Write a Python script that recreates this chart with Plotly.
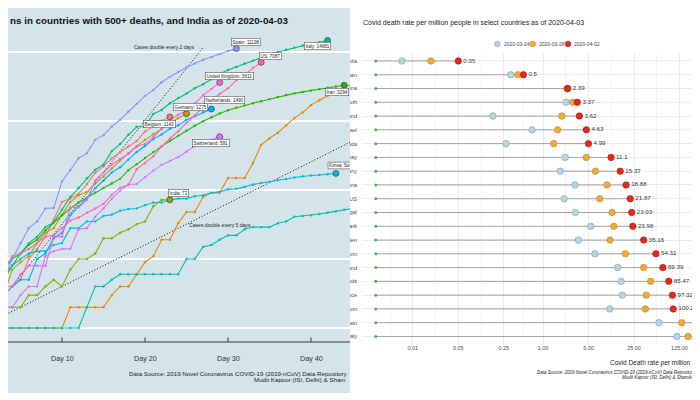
import math
import plotly.graph_objects as go

W, H = 700, 400
OFF = 8  # the page body offsets the figure by 8px; layout below is written in screen pixels
FONT = "Liberation Sans, Arial, Helvetica, sans-serif"

# ---------------- LEFT PANEL DATA: cumulative deaths, by day since first death ----------------
left_countries = ["Belgium", "France", "Germany", "India", "Iran", "Italy", "Japan",
                  "Korea, South", "Netherlands", "Spain", "Switzerland", "United Kingdom", "US"]
deaths_belgium = [3, 3, 3, 4, 4, 5, 10, 14, 21, 37, 67, 75, 88, 122, 178, 220, 289, 353, 431, 513,
                  705, 828, 1011, 1143]
deaths_france = [1, 1, 1, 1, 1, 1, 1, 1, 1, 1, 1, 2, 2, 2, 2, 2, 3, 4, 4, 6, 9, 11, 19, 19, 33, 48,
                 48, 79, 91, 91, 149, 149, 149, 244, 451, 563, 676, 862, 1102, 1333, 1698, 1997,
                 2317, 2611, 3030, 3532, 4043, 5398, 6520]
deaths_germany = [2, 2, 3, 3, 7, 9, 11, 17, 24, 28, 44, 67, 84, 94, 123, 157, 206, 267, 342, 433,
                  533, 645, 775, 920, 1107, 1275]
deaths_india = [1, 1, 2, 2, 2, 2, 3, 3, 4, 5, 4, 7, 10, 10, 12, 20, 20, 24, 27, 32, 35, 58, 72, 72]
deaths_iran = [2, 2, 4, 5, 8, 12, 16, 19, 26, 34, 43, 54, 66, 77, 92, 107, 124, 145, 194, 237, 291,
               354, 429, 514, 611, 724, 853, 988, 1135, 1284, 1433, 1556, 1685, 1812, 1934, 2077,
               2234, 2378, 2517, 2640, 2757, 2898, 3036, 3160, 3294]
deaths_italy = [1, 2, 3, 7, 10, 12, 17, 21, 29, 34, 52, 79, 107, 148, 197, 233, 366, 463, 631, 827,
                827, 1266, 1441, 1809, 2158, 2503, 2978, 3405, 4032, 4825, 5476, 6077, 6820, 7503,
                8215, 9134, 10023, 10779, 11591, 12428, 13155, 13915, 14681]
deaths_japan = [1, 1, 1, 1, 1, 1, 1, 1, 1, 1, 1, 1, 1, 2, 4, 4, 5, 6, 6, 6, 6, 6, 6, 6, 6, 10, 10,
                15, 16, 19, 22, 22, 27, 29, 29, 29, 33, 35, 41, 42, 43, 45, 47, 49, 52, 54, 54, 56,
                57, 62, 63]
deaths_korea = [1, 2, 2, 6, 8, 10, 12, 13, 13, 16, 17, 28, 28, 35, 35, 42, 44, 50, 53, 54, 60, 66,
                66, 72, 75, 75, 81, 84, 91, 94, 102, 104, 111, 120, 126, 131, 139, 144, 152, 158,
                162, 165, 169, 174]
deaths_netherlands = [1, 1, 3, 3, 4, 5, 5, 10, 12, 20, 24, 43, 58, 76, 106, 136, 179, 213, 276, 356,
                      434, 546, 639, 771, 864, 1039, 1173, 1339, 1490]
deaths_spain = [1, 2, 3, 5, 10, 17, 28, 35, 54, 55, 133, 195, 289, 342, 533, 623, 830, 1043, 1375,
                1772, 2311, 2808, 3647, 4365, 5138, 5982, 6803, 7716, 8464, 9387, 10348, 11198]
deaths_switzerland = [1, 1, 1, 2, 2, 3, 4, 4, 11, 13, 14, 14, 27, 28, 41, 54, 75, 98, 120, 122,
                      153, 191, 231, 264, 300, 359, 433, 488, 536, 591]
deaths_uk = [1, 2, 2, 3, 4, 6, 8, 8, 8, 21, 21, 56, 56, 72, 138, 178, 234, 282, 336, 423, 466, 580,
             761, 1021, 1231, 1411, 1793, 2357, 2926, 3611]
deaths_us = [1, 1, 6, 7, 11, 12, 14, 17, 21, 22, 28, 36, 40, 47, 54, 63, 85, 108, 118, 200, 244,
             307, 427, 552, 706, 942, 1209, 1581, 2026, 2467, 2978, 3873, 4757, 5926, 7087]
left_series = [deaths_belgium, deaths_france, deaths_germany, deaths_india, deaths_iran,
               deaths_italy, deaths_japan, deaths_korea, deaths_netherlands, deaths_spain,
               deaths_switzerland, deaths_uk, deaths_us]
x_tick_days = [10, 20, 30, 40]
x_tick_labels = ["Day 10", "Day 20", "Day 30", "Day 40"]
gridline_deaths = [1, 10, 100, 1000, 10000]
doubling_periods = [2, 5]

# ---------------- RIGHT PANEL DATA: deaths per million ----------------
rate_countries = ["India", "Japan", "China", "Korea, South", "Finland", "Israel", "Canada",
                  "Norway", "Germany", "Austria", "US", "Portugal", "Denmark", "Sweden",
                  "United Kingdom", "Switzerland", "Netherlands", "France", "Belgium", "Spain",
                  "Italy"]
rate_dates = ["2020-03-24", "2020-03-28", "2020-04-02"]
rate_0324 = [0.0068, 0.32, 2.34, 2.26, 0.17, 0.68, 0.27, 2.20, 1.84, 3.10, 2.12, 3.13, 5.40, 3.49,
             6.29, 14.0, 15.9, 16.5, 10.6, 60.5, 114]
rate_0328 = [0.019, 0.41, 2.36, 2.86, 1.94, 1.68, 1.46, 4.62, 6.36, 9.62, 7.43, 11.5, 12.3, 10.7,
             18.4, 35.2, 45.1, 38.6, 37.3, 135, 170]
rate_0402 = [0.05, 0.5, 2.39, 3.37, 3.62, 4.63, 4.99, 11.1, 15.37, 18.88, 21.87, 23.03, 23.98,
             35.16, 54.31, 69.39, 85.47, 97.32, 100.26, 239.76, 243.06]
rate_axis_start = 0.0027
rate_tick_vals = [0.01, 0.05, 0.25, 1, 5, 25, 125]
rate_tick_text = ["0.01", "0.05", "0.25", "1.00", "5.00", "25.00", "125.00"]

# ---------------- styles ----------------
left_colors = ["#F8766D", "#E18A00", "#BE9C00", "#8CAB00", "#24B700", "#00BE70", "#00C1AB",
               "#00BBDA", "#00ACFC", "#8B93FF", "#D575FE", "#F962DD", "#FF65AC"]
date_fill = ["#b6d5e3", "#f2a93b", "#e3281f"]
date_edge = ["#7d9cab", "#c08424", "#a81c16"]
LEFT_BG = "#d5e4eb"

# label offsets (px) from the end point of each curve: (xshift, yshift)
label_offsets = {"Spain": (10, 6.5), "Italy": (-10, -6), "US": (9, 6), "United Kingdom": (10, 7),
                 "Netherlands": (13, 9), "Germany": (4, 7), "Belgium": (-10, -7),
                 "Switzerland": (-9, -6), "Iran": (-7, -7), "India": (9, 7)}


# screen-pixel helpers
def lx(px):  # left panel: screen x -> day
    return 10 + (px - 62) / 8.3


def ly(py):  # left panel: screen y -> deaths
    return 10 ** ((328 - py) / 69)


def rx_log(px):  # right panel: screen x -> log10(rate)
    return (px - 543) / 65.1


def pxp(sx):  # screen x -> paper x
    return (sx - OFF) / W


def pyp(sy):  # screen y -> paper y
    return 1 - (sy - OFF) / H


fig = go.Figure()

# ======================= RIGHT PANEL (subplot xy, drawn first) =======================
seg_x, seg_y = [], []
for c, v in zip(rate_countries, rate_0402):
    seg_x += [rate_axis_start, v, None]
    seg_y += [c, c, None]
fig.add_trace(go.Scatter(x=seg_x, y=seg_y, mode="lines", line=dict(color="#a3a3a3", width=1),
                         hoverinfo="skip", showlegend=False))
fig.add_trace(go.Scatter(x=[rate_axis_start] * len(rate_countries), y=rate_countries,
                         mode="markers", marker=dict(color="#4caf50", size=3),
                         hoverinfo="skip", showlegend=False))
for i, vals in enumerate([rate_0324, rate_0328, rate_0402]):
    is_last = i == 2
    fig.add_trace(go.Scatter(
        x=vals, y=rate_countries,
        mode="markers+text" if is_last else "markers",
        text=[f"{round(v, 2):g}" for v in vals] if is_last else None,
        textposition="middle right",
        textfont=dict(size=6.2, color="#333333", family=FONT),
        marker=dict(color=date_fill[i], size=6.5, line=dict(color=date_edge[i], width=0.6)),
        name=rate_dates[i], showlegend=False, hoverinfo="skip"))

# ======================= LEFT PANEL (subplot x2y2, drawn over the right one) =======================
BIGX0, BIGX1 = lx(-50), lx(420)
fig.add_trace(go.Scatter(x=[BIGX0, BIGX1, BIGX1, BIGX0, BIGX0],
                         y=[ly(450), ly(450), ly(-50), ly(-50), ly(450)],
                         mode="lines", fill="toself", fillcolor=LEFT_BG, line=dict(width=0),
                         xaxis="x2", yaxis="y2", hoverinfo="skip", showlegend=False))
gx, gy = [], []
for g in gridline_deaths:
    gx += [BIGX0, BIGX1, None]
    gy += [g, g, None]
fig.add_trace(go.Scatter(x=gx, y=gy, mode="lines", line=dict(color="white", width=2.2),
                         xaxis="x2", yaxis="y2", hoverinfo="skip", showlegend=False))
fig.add_trace(go.Scatter(x=[BIGX0, BIGX1], y=[ly(342), ly(342)], mode="lines",
                         line=dict(color="#3a3a3a", width=1), xaxis="x2", yaxis="y2",
                         hoverinfo="skip", showlegend=False))
tx, ty = [], []
for d in x_tick_days:
    tx += [d, d, None]
    ty += [ly(342), ly(337.5), None]
fig.add_trace(go.Scatter(x=tx, y=ty, mode="lines", line=dict(color="#3a3a3a", width=1),
                         xaxis="x2", yaxis="y2", hoverinfo="skip", showlegend=False))
dbl_end = {2: 27, 5: 52}
for p in doubling_periods:
    xs = [0, dbl_end[p]]
    fig.add_trace(go.Scatter(x=xs, y=[2 ** (d / p) for d in xs], mode="lines",
                             line=dict(color="black", width=1, dash="1px,2px"),
                             xaxis="x2", yaxis="y2", hoverinfo="skip", showlegend=False))
for name, ser, col in zip(left_countries, left_series, left_colors):
    days = list(range(len(ser)))
    fig.add_trace(go.Scatter(x=days, y=ser, mode="lines+markers",
                             line=dict(color=col, width=1.1),
                             marker=dict(color=col, size=2.4),
                             xaxis="x2", yaxis="y2", name=name, hoverinfo="skip",
                             showlegend=False))
for name, ser, col in zip(left_countries, left_series, left_colors):
    fig.add_trace(go.Scatter(x=[len(ser) - 1], y=[ser[-1]], mode="markers",
                             marker=dict(color=col, size=6, line=dict(color="#333333", width=0.6)),
                             xaxis="x2", yaxis="y2", hoverinfo="skip", showlegend=False))

# Korea label: cut by the panel edge, so drawn as clipped traces
k_ser = left_series[left_countries.index("Korea, South")]
kx0, kx1 = lx(328), lx(400)
ky0, ky1 = ly(168.8), ly(162.2)
fig.add_trace(go.Scatter(x=[kx0, kx1, kx1, kx0, kx0], y=[ky0, ky0, ky1, ky1, ky0], mode="lines",
                         fill="toself", fillcolor="white", line=dict(color="#555555", width=0.6),
                         xaxis="x2", yaxis="y2", hoverinfo="skip", showlegend=False))
fig.add_trace(go.Scatter(x=[lx(329)], y=[ly(165.5)], mode="text",
                         text=[f"Korea, South: {k_ser[-1]}"], textposition="middle right",
                         textfont=dict(size=4.6, color="#222222", family=FONT),
                         xaxis="x2", yaxis="y2", hoverinfo="skip", showlegend=False))

annotations = []


def note(sx, sy, text, size, color="#222222", xanchor="left", **kw):
    annotations.append(dict(x=pxp(sx), y=pyp(sy), xref="paper", yref="paper", text=text,
                            showarrow=False, xanchor=xanchor, yanchor="middle",
                            font=dict(size=size, color=color, family=FONT), **kw))


for name, ser in zip(left_countries, left_series):
    if name not in label_offsets:
        continue
    dx, dy = label_offsets[name]
    annotations.append(dict(x=len(ser) - 1, y=math.log10(ser[-1]), xref="x2", yref="y2",
                            xanchor="center", yanchor="middle",
                            text=f"{name}: {ser[-1]}", showarrow=False, xshift=dx, yshift=dy,
                            font=dict(size=4.6, color="#222222", family=FONT),
                            bgcolor="white", bordercolor="#555555", borderwidth=0.6, borderpad=1))

note(197, 47, "Cases double every 2 days", 5, xanchor="right")
note(187, 224.5, "Cases double every 5 days", 5.1)
for d, t in zip(x_tick_days, x_tick_labels):
    annotations.append(dict(x=d, y=pyp(358), xref="x2", yref="paper", text=t, showarrow=False,
                            xanchor="center", yanchor="middle",
                            font=dict(size=7.2, color="#333333", family=FONT)))
note(8, 21, "<b>ns in countries with 500+ deaths, and India as of 2020-04-03</b>", 9.8,
     color="#111111")
note(127, 373.5, "Data Source: 2019 Novel Coronavirus COVID-19 (2019-nCoV) Data Repository", 6.2)
note(252, 379.3, "Mudit Kapoor (ISI, Delhi) &amp; Sham", 6.2)

note(361, 22.5, "Covid death rate per million people in select countries as of 2020-04-03", 7,
     color="#1a1a1a")
shapes = []
legend_cx = [497.3, 532.7, 568.0]
for i, cx in enumerate(legend_cx):
    r = 2.8
    shapes.append(dict(type="circle", xref="paper", yref="paper",
                       x0=pxp(cx - r), x1=pxp(cx + r), y0=pyp(44 + r), y1=pyp(44 - r),
                       fillcolor=date_fill[i], line=dict(color=date_edge[i], width=0.6)))
    note(cx + 4.3, 44, rate_dates[i], 5, color="#444444")
note(608, 363, "Covid Death rate per million people", 6.5)
note(535, 372.3, "<i>Data Source: 2019 Novel Coronavirus COVID-19 (2019-nCoV) Data Repository "
     "by Johns Hopkins CSSE</i>", 4.5)
note(620, 377, "<i>Mudit Kapoor (ISI, Delhi) &amp; Shamika Ravi (Brookings)</i>", 4.5)

minor_vals = [math.sqrt(a * b) for a, b in zip([0.002] + rate_tick_vals[:-1], rate_tick_vals)]

fig.update_layout(
    width=W, height=H, margin=dict(l=0, r=0, t=0, b=0),
    paper_bgcolor="white", plot_bgcolor="white", template="none",
    font=dict(family=FONT),
    showlegend=False,
    xaxis=dict(domain=[pxp(362), 1.0], type="log", range=[rx_log(362), rx_log(708)],
               tickmode="array", tickvals=rate_tick_vals, ticktext=rate_tick_text,
               tickfont=dict(size=5.5, color="#4d4d4d", family=FONT),
               showgrid=True, gridcolor="#ebebeb", gridwidth=0.8, zeroline=False,
               showline=False, ticks="", automargin=False, ticklabelstandoff=-2,
               minor=dict(tickmode="array", tickvals=minor_vals, showgrid=True,
                          gridcolor="#f3f3f3", gridwidth=0.6, ticks="")),
    yaxis=dict(domain=[pyp(345), pyp(53)], type="category", categoryorder="array",
               categoryarray=rate_countries,
               range=[len(rate_countries) - 1 + 0.62, -0.58],
               tickfont=dict(size=5.5, color="#4d4d4d", family=FONT),
               showgrid=True, gridcolor="#ebebeb", gridwidth=0.8, zeroline=False,
               showline=False, ticks="", automargin=False, ticklabelstandoff=4),
    xaxis2=dict(domain=[pxp(8), pxp(350)], anchor="y2", range=[lx(8), lx(350)], visible=False,
                showgrid=False, zeroline=False, automargin=False),
    yaxis2=dict(domain=[pyp(393), pyp(8)], anchor="x2", type="log",
                range=[(328 - 393) / 69, (328 - 8) / 69], visible=False, showgrid=False,
                zeroline=False, automargin=False),
    annotations=annotations, shapes=shapes,
)

fig.write_html("out.html")
